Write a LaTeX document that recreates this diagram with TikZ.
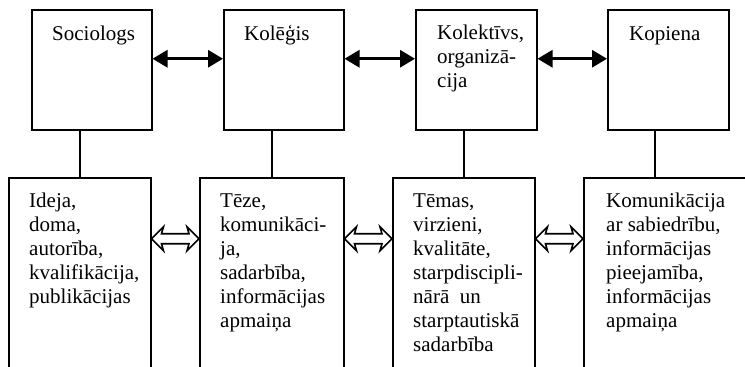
\documentclass[tikz,border=0pt]{standalone}
\usepackage{fontspec}
\setmainfont{Liberation Serif}
\usetikzlibrary{arrows.meta,calc}
\begin{document}
\begin{tikzpicture}[x=1pt,y=-1pt,
 topbox/.style={draw, line width=1.5pt, anchor=north west, minimum height=120pt, inner sep=0pt},
 botbox/.style={draw, line width=1.5pt, anchor=north west, minimum height=220pt, inner sep=0pt},
 lab/.style={anchor=north west, align=left, inner sep=0pt, font=\fontsize{21}{24}\selectfont},
 link/.style={line width=1.5pt},
 biarrow/.style={line width=3pt, {Triangle[length=15pt,width=17pt]}-{Triangle[length=15pt,width=17pt]}},
 hollow/.style={draw, line width=1.6pt, line join=miter, fill=white}
]
\useasboundingbox (0,0) rectangle (745,367);
\clip (0,0) rectangle (745,367);
\fill[white] (0,0) rectangle (745,367);

% top boxes
\node[topbox, minimum width=120pt] (t1) at (31,9) {};
\node[topbox, minimum width=120pt] (t2) at (223,9) {};
\node[topbox, minimum width=121pt] (t3) at (415,9) {};
\node[topbox, minimum width=121pt] (t4) at (607,9) {};

% bottom boxes
\node[botbox, minimum width=142pt] (b1) at (8,177) {};
\node[botbox, minimum width=144pt] (b2) at (199,177) {};
\node[botbox, minimum width=142pt] (b3) at (392,177) {};
\node[botbox, minimum width=180pt] (b4) at (583,177) {};

% labels
\node[lab] (l1) at (52,24) {\rule{0pt}{16pt}Sociologs};
\node[lab] (l2) at (244,24) {\rule{0pt}{16pt}Kolēģis};
\node[lab] (l3) at (437,23) {\rule{0pt}{16pt}Kolektīvs,\\organizā-\\cija};
\node[lab] (l4) at (629,24) {\rule{0pt}{16pt}Kopiena};

\node[lab] (m1) at (29,191) {\rule{0pt}{16pt}Ideja,\\doma,\\autorība,\\kvalifikācija,\\publikācijas};
\node[lab] (m2) at (220,191) {\rule{0pt}{16pt}Tēze,\\komunikāci-\\ja,\\sadarbība,\\informācijas\\apmaiņa};
\node[lab] (m3) at (413,191) {\rule{0pt}{16pt}Tēmas,\\virzieni,\\kvalitāte,\\starpdiscipli-\\nārā\ \ un\\starptautiskā\\sadarbība};
\node[lab] (m4) at (606,191) {\rule{0pt}{16pt}Komunikācija\\ar sabiedrību,\\informācijas\\pieejamība,\\informācijas\\apmaiņa};

% vertical links
\draw[link] (b1.north) -- (b1.north |- t1.south);
\draw[link] (b2.north) -- (b2.north |- t2.south);
\draw[link] (b3.north) -- (b3.north |- t3.south);
\coordinate (k4) at (655,129);
\draw[link] (k4) -- (k4 |- b4.north);

% top arrows
\draw[biarrow] ([yshift=11pt]t1.east) -- ([yshift=11pt]t2.west);
\draw[biarrow] ([yshift=11pt]t2.east) -- ([yshift=11pt]t3.west);
\draw[biarrow] ([yshift=11pt]t3.east) -- ([yshift=11pt]t4.west);

% bottom hollow double arrows
\foreach \s/\e in {b1/b2, b2/b3, b3/b4}{
  \coordinate (pa) at ([yshift=49pt]\s.east);
  \coordinate (pb) at ([yshift=49pt]\e.west);
  \draw[hollow] (pa) -- ++(12,-12) -- ++(-2,7) -- ($(pb)+(-10,-5)$) -- ++(-2,-7)
     -- (pb) -- ++(-12,12) -- ++(2,-7) -- ($(pa)+(10,5)$) -- ++(2,7) -- cycle;
}
\end{tikzpicture}
\end{document}
